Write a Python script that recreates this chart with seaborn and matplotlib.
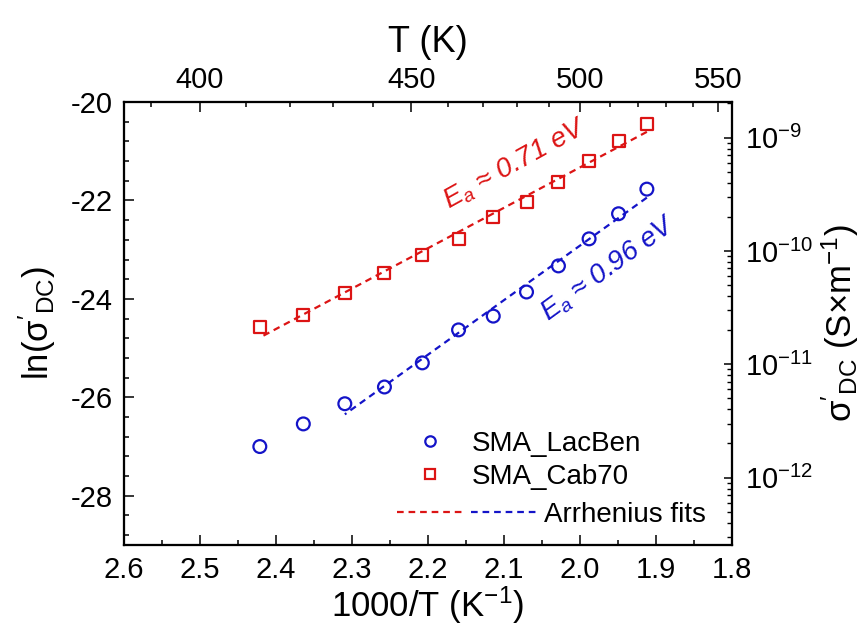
import numpy as np
import pandas as pd
import matplotlib
matplotlib.use("Agg")
import matplotlib.pyplot as plt
import seaborn as sns
from matplotlib.ticker import MultipleLocator, FixedLocator, LogLocator, NullFormatter
from matplotlib.lines import Line2D
from matplotlib.legend_handler import HandlerTuple

# ---------------- data ----------------
temps_K = [413, 423, 433, 443, 453, 463, 473, 483, 493, 503, 513, 523]
ln_lacben = [-27.00, -26.54, -26.13, -25.79, -25.30, -24.63, -24.35, -23.86,
             -23.33, -22.78, -22.27, -21.77]
ln_cab70 = [-24.57, -24.32, -23.88, -23.47, -23.11, -22.78, -22.34, -22.03,
            -21.62, -21.20, -20.79, -20.45]
fit_start_lacben = 2   # Arrhenius fit of SMA_LacBen starts at 3rd point
fit_start_cab70 = 0
top_major_T = [400, 450, 500, 550]
top_minor_T = [390, 410, 420, 430, 440, 460, 470, 480, 490, 510, 520, 530, 540]
series_names = ["SMA_LacBen", "SMA_Cab70"]
ea_labels = ["0.96", "0.71"]

BLUE = "#1414c8"
RED = "#dc1414"

sns.set_theme(style="white")
plt.rcParams["font.family"] = ["Liberation Sans", "DejaVu Sans"]
plt.rcParams["mathtext.fontset"] = "custom"
plt.rcParams["mathtext.rm"] = "Liberation Sans"
plt.rcParams["mathtext.it"] = "Liberation Sans:italic"
plt.rcParams["mathtext.bf"] = "Liberation Sans:bold"
plt.rcParams["mathtext.default"] = "regular"
plt.rcParams["axes.unicode_minus"] = False
plt.rcParams["text.color"] = "black"
plt.rcParams["axes.labelcolor"] = "black"
plt.rcParams["xtick.color"] = "black"
plt.rcParams["ytick.color"] = "black"

invT = [1000.0 / t for t in temps_K]
df = pd.DataFrame({"invT": invT * 2,
                   "ln": ln_lacben + ln_cab70,
                   "sample": [series_names[0]] * len(invT) + [series_names[1]] * len(invT)})

fig = plt.figure(figsize=(8.6, 6.34), dpi=100)
ax = fig.add_axes([0.1442, 0.1404, 0.707, 0.6987])

# fits
fit_rows = []
for name, vals, start in [(series_names[1], ln_cab70, fit_start_cab70),
                          (series_names[0], ln_lacben, fit_start_lacben)]:
    xs = np.array(invT[start:])
    ys = np.array(vals[start:])
    p = np.polyfit(xs, ys, 1)
    xx = np.array([xs.min(), xs.max()])
    for xv in xx:
        fit_rows.append({"invT": xv, "ln": np.polyval(p, xv), "sample": name})
fit_df = pd.DataFrame(fit_rows)

for name, col in [(series_names[1], RED), (series_names[0], BLUE)]:
    sub = fit_df[fit_df["sample"] == name]
    sns.lineplot(data=sub, x="invT", y="ln", ax=ax, color=col, lw=1.6,
                 dashes=False, linestyle=(0, (3, 2.2)), legend=False, sort=False)

sub = df[df["sample"] == series_names[0]]
ax.scatter(sub["invT"], sub["ln"], marker="o", s=85, facecolors="none",
           edgecolors=BLUE, linewidths=1.6, zorder=3)
sub = df[df["sample"] == series_names[1]]
ax.scatter(sub["invT"], sub["ln"], marker="s", s=75, facecolors="none",
           edgecolors=RED, linewidths=1.6, zorder=3)

ax.set_xlim(2.6, 1.8)
ax.set_ylim(-29, -20)
ax.xaxis.set_major_locator(MultipleLocator(0.1))
ax.xaxis.set_minor_locator(MultipleLocator(0.05))
ax.yaxis.set_major_locator(MultipleLocator(2))
ax.yaxis.set_minor_locator(MultipleLocator(0.4))
ax.set_xlabel("1000/T (K$^{-1}$)", fontsize=25, labelpad=0)
ax.set_ylabel("ln($\\sigma'_{DC}$)", fontsize=25, labelpad=9)

for s in ax.spines.values():
    s.set_linewidth(1.5)
    s.set_color("black")

tick_kw = dict(direction="in", colors="black", labelsize=21)
ax.tick_params(axis="both", which="major", length=7.5, width=1.1, pad=8, **tick_kw)
ax.tick_params(axis="both", which="minor", length=3.8, width=1.1, **tick_kw)
ax.tick_params(top=False, right=False, which="both")

# top axis: temperature
axt = ax.twiny()
axt.set_xlim(2.6, 1.8)
axt.xaxis.set_major_locator(FixedLocator([1000.0 / t for t in top_major_T]))
axt.set_xticklabels([str(t) for t in top_major_T])
axt.xaxis.set_minor_locator(FixedLocator([1000.0 / t for t in top_minor_T]))
axt.tick_params(axis="x", which="major", length=7.5, width=1.1, pad=6, **tick_kw)
axt.tick_params(axis="x", which="minor", length=3.8, width=1.1, **tick_kw)
axt.set_xlabel("T (K)", fontsize=26, labelpad=10)
for s in axt.spines.values():
    s.set_linewidth(1.5)
    s.set_color("black")

# right axis: sigma log scale
axr = ax.twinx()
axr.set_yscale("log")
axr.set_ylim(np.exp(-29), np.exp(-20))
axr.yaxis.set_major_locator(LogLocator(base=10, numticks=20))
axr.yaxis.set_minor_locator(LogLocator(base=10, subs=np.arange(2, 10), numticks=20))
axr.yaxis.set_minor_formatter(NullFormatter())
axr.tick_params(axis="y", which="major", length=6, width=1.1, pad=9, **tick_kw)
axr.tick_params(axis="y", which="minor", length=3.5, width=1.0, **tick_kw)
axr.set_ylabel("$\\sigma'_{DC}$ (S×m$^{-1}$)", fontsize=25, labelpad=5)
for s in axr.spines.values():
    s.set_linewidth(1.5)
    s.set_color("black")
axr.xaxis.set_visible(False)
axt.yaxis.set_visible(False)
for a in (ax, axt, axr):
    a.xaxis.offsetText.set_visible(False)
    a.yaxis.offsetText.set_visible(False)

# annotations
ax.text(2.085, -21.26, "$\\mathit{E_a}$ ≈ " + ea_labels[1] + " eV",
        color=RED, fontsize=20, style="italic", rotation=29,
        ha="center", va="center", rotation_mode="anchor")
ax.text(1.962, -23.39, "$\\mathit{E_a}$ ≈ " + ea_labels[0] + " eV",
        color=BLUE, fontsize=20, style="italic", rotation=36,
        ha="center", va="center", rotation_mode="anchor")

# legends
h1 = Line2D([], [], ls="none", marker="o", ms=7.5, mfc="none", mec=BLUE, mew=1.6)
h2 = Line2D([], [], ls="none", marker="s", ms=6.5, mfc="none", mec=RED, mew=1.6)
leg1 = ax.legend([h1, h2], series_names, loc="upper left",
                 bbox_to_anchor=(0.480, 0.257), frameon=False, fontsize=20,
                 handlelength=1.0, handletextpad=1.0, borderpad=0,
                 borderaxespad=0, labelspacing=0.25)
ax.add_artist(leg1)
l_r = Line2D([], [], color=RED, lw=1.6, ls=(0, (3, 2.2)))
l_b = Line2D([], [], color=BLUE, lw=1.6, ls=(0, (3, 2.2)))
leg2 = ax.legend([(l_r, l_b)], ["Arrhenius fits"], loc="upper left",
                 bbox_to_anchor=(0.449, 0.097), frameon=False, fontsize=20,
                 handlelength=5.0, handletextpad=0.3, borderpad=0,
                 borderaxespad=0,
                 handler_map={tuple: HandlerTuple(ndivide=None, pad=0.3)})

fig.savefig("out.png", dpi=100)
